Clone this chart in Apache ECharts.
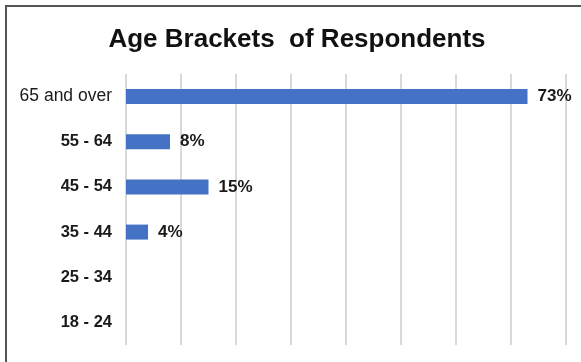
<!DOCTYPE html>
<html>
<head>
<meta charset="utf-8">
<style>
  html, body { margin: 0; padding: 0; background: #fff; overflow: hidden; }
  #chart { width: 581px; height: 362px; }
</style>
<script src="https://cdn.jsdelivr.net/npm/echarts@6/dist/echarts.min.js"></script>
</head>
<body>
<div id="chart"></div>
<script>
// age brackets, top to bottom
const categories = ["65 and over", "55 - 64", "45 - 54", "35 - 44", "25 - 34", "18 - 24"];
// share of respondents, %
const shares = [73, 8, 15, 4, 0, 0];
const axisMax = 80;
const axisStep = 10;

const font = "'Liberation Sans', Arial, sans-serif";

const chart = echarts.init(document.getElementById("chart"), null, { renderer: "canvas" });

const options = {
  animation: false,
  backgroundColor: "#fff",
  title: {
    text: "Age Brackets  of Respondents",
    left: 297,
    top: 27,
    padding: 0,
    textAlign: "center",
    textStyle: {
      fontFamily: font,
      fontSize: 26,
      fontWeight: "bold",
      color: "#111",
    },
  },
  // frame of the original chart area (cut off right and bottom)
  graphic: [
    {
      type: "rect",
      shape: { x: 6, y: 6, width: 640, height: 420 },
      style: { fill: null, stroke: "#555", lineWidth: 2 },
      silent: true,
    },
  ],
  grid: {
    left: 126,
    right: 15,
    top: 74,
    bottom: 17,
    containLabel: false,
  },
  xAxis: {
    type: "value",
    min: 0,
    max: axisMax,
    interval: axisStep,
    axisLabel: { show: false },
    axisLine: { show: false },
    axisTick: { show: false },
    splitLine: { show: true, lineStyle: { color: "#d9d9d9", width: 2 } },
  },
  yAxis: {
    type: "category",
    inverse: true,
    data: categories,
    axisLine: { show: false },
    axisTick: { show: false },
    axisLabel: {
      margin: 14,
      formatter: (v) => (v === "65 and over" ? "{n|" + v + "}" : "{b|" + v + "}"),
      rich: {
        n: { fontFamily: font, fontSize: 17.5, fontWeight: "normal", color: "#1a1a1a" },
        b: { fontFamily: font, fontSize: 16.5, fontWeight: "bold", color: "#1a1a1a" },
      },
    },
  },
  series: [
    {
      type: "bar",
      data: shares,
      barWidth: 15,
      itemStyle: { color: "#4472C4" },
      label: {
        show: true,
        position: "right",
        distance: 10,
        formatter: (p) => (p.value > 0 ? p.value + "%" : ""),
        fontFamily: font,
        fontSize: 17,
        fontWeight: "bold",
        color: "#1a1a1a",
      },
    },
  ],
};

chart.setOption(options);
window.addEventListener("resize", () => chart.resize());
</script>
</body>
</html>
